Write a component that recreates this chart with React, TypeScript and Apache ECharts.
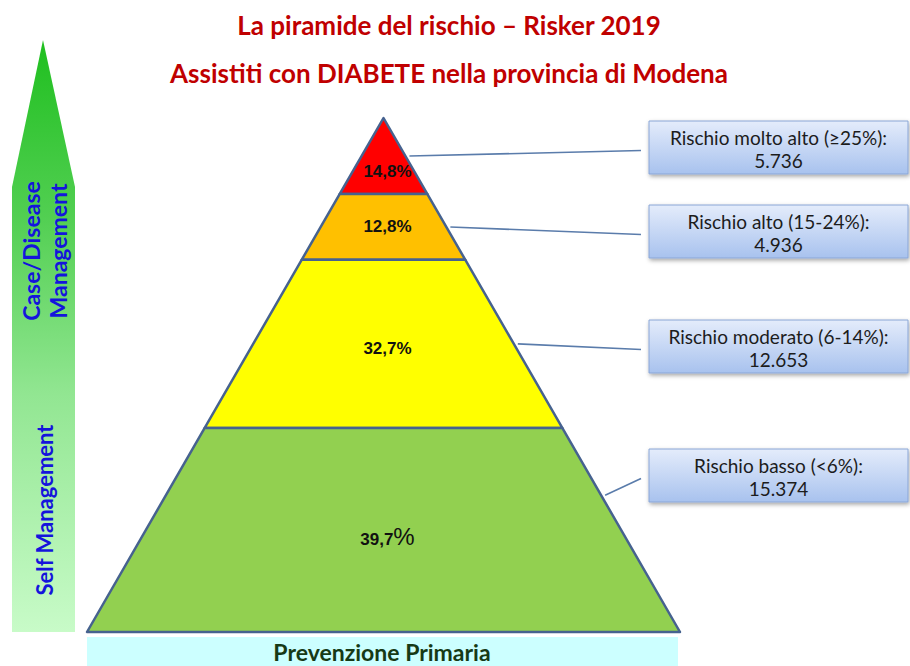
import React, { useEffect, useRef } from 'react';
import * as echarts from 'echarts';

const titleLines = ['La piramide del rischio – Risker 2019', 'Assistiti con DIABETE nella provincia di Modena'];
const riskLabels = ['Rischio molto alto (≥25%)', 'Rischio alto (15-24%)', 'Rischio moderato (6-14%)', 'Rischio basso (<6%)'];
const riskPercents = [14.8, 12.8, 32.7, 39.7];
const riskCounts = [5736, 4936, 12653, 15374];
const sideLabels = ['Case/Disease\nManagement', 'Self Management'];
const baseLabel = 'Prevenzione Primaria';

const layerColors = ['#ff0000', '#ffc000', '#ffff00', '#92d050'];
const boxTops = [121, 205, 320, 449];
const labelFrac = [0.3, 0.5, 0.47, 0.47];
const anchorFrac = [0.5, 0.5, 0.5, 0.33];

const fmtPct = (v: number) => v.toFixed(1).replace('.', ',');
const fmtCount = (v: number) => String(v).replace(/\B(?=(\d{3})+(?!\d))/g, '.');

// cumulative levels from the base (0) to the apex (100), layers listed top to bottom
const cumBottoms = riskPercents.map((_, i) => riskPercents.slice(i + 1).reduce((a, b) => a + b, 0));
const seriesData = riskPercents.map((p, i) => [cumBottoms[i], cumBottoms[i] + p, p, riskCounts[i]]);

const CAL = 'Lato, "Open Sans", sans-serif';

export default function App() {
  const ref = useRef<HTMLDivElement>(null);
  useEffect(() => {
    if (!ref.current) return;
    const chart = echarts.init(ref.current, null, { renderer: 'svg' });
    const hw = (v: number) => Math.max(0, 1 - v / 100);

    const renderItem = (params: any, api: any) => {
      const i = params.dataIndex;
      const b = api.value(0);
      const t = Math.min(100, api.value(1));
      const pct = api.value(2);
      const cnt = api.value(3);
      const p1 = api.coord([-hw(b), b]);
      const p2 = api.coord([hw(b), b]);
      const p3 = api.coord([hw(t), t]);
      const p4 = api.coord([-hw(t), t]);
      const lv = b + (t - b) * labelFrac[i];
      const lp = api.coord([0, lv]);
      const av = t - (t - b) * anchorFrac[i];
      const ap = api.coord([hw(av), av]);
      const boxX = 649;
      const boxW = 259;
      const boxH = 53;
      const boxY = boxTops[i];
      const isLast = i === riskPercents.length - 1;
      return {
        type: 'group',
        children: [
          {
            type: 'polygon',
            shape: { points: [p1, p2, p3, p4] },
            style: { fill: layerColors[i], stroke: '#46628f', lineWidth: 2.5, lineJoin: 'round' },
          },
          {
            type: 'text',
            style: {
              text: isLast ? `{a|${fmtPct(pct)}}{b|%}` : `${fmtPct(pct)}%`,
              x: lp[0] + 4,
              y: lp[1],
              align: 'center',
              verticalAlign: 'middle',
              textAlign: 'center',
              textVerticalAlign: 'middle',
              font: 'bold 17px "Liberation Sans", Arial, sans-serif',
              fill: '#111',
              rich: {
                a: { font: 'bold 17px "Liberation Sans", Arial, sans-serif', fill: '#111', verticalAlign: 'bottom' },
                b: { font: '24px "Liberation Sans", Arial, sans-serif', fill: '#111', verticalAlign: 'bottom' },
              },
            },
          },
          {
            type: 'line',
            shape: { x1: ap[0] + 4, y1: ap[1], x2: 641, y2: boxY + boxH / 2 + 3 },
            style: { stroke: '#5a7cab', lineWidth: 1.6 },
          },
          {
            type: 'rect',
            shape: { x: boxX, y: boxY, width: boxW, height: boxH },
            style: {
              fill: new echarts.graphic.LinearGradient(0, 0, 0, 1, [
                { offset: 0, color: '#e4ecfb' },
                { offset: 1, color: '#a8c2ee' },
              ]),
              stroke: '#8aa6d6',
              lineWidth: 1,
              shadowBlur: 4,
              shadowOffsetX: 1,
              shadowOffsetY: 2,
              shadowColor: 'rgba(0,0,0,0.35)',
            },
          },
          {
            type: 'text',
            style: {
              text: `${riskLabels[i]}:\n${fmtCount(cnt)}`,
              x: boxX + boxW / 2,
              y: boxY + boxH / 2 + 1,
              align: 'center',
              verticalAlign: 'middle',
              textAlign: 'center',
              textVerticalAlign: 'middle',
              font: `19px ${CAL}`,
              lineHeight: 23,
              fill: '#1c1c1c',
            },
          },
        ],
      };
    };

    chart.setOption({
      animation: false,
      grid: { left: 87, top: 118, width: 593, height: 514 },
      xAxis: { type: 'value', min: -1, max: 1, show: false },
      yAxis: { type: 'value', min: 0, max: 100, show: false },
      graphic: [
        {
          type: 'polygon',
          shape: { points: [[43, 40], [75, 187], [75, 632], [12, 632], [12, 187]] },
          style: {
            fill: {
              type: 'linear', x: 0, y: 0, x2: 0, y2: 1,
              colorStops: [
                { offset: 0, color: '#1fbf1f' },
                { offset: 0.3, color: '#52cf52' },
                { offset: 0.6, color: '#92e692' },
                { offset: 1, color: '#c8fbc8' },
              ],
            },
          },
          z: 1,
        },
        {
          type: 'text',
          x: 44,
          y: 251,
          rotation: Math.PI / 2,
          style: {
            text: sideLabels[0],
            align: 'center', verticalAlign: 'middle', textAlign: 'center', textVerticalAlign: 'middle',
            font: `bold 23px ${CAL}`, lineHeight: 27, fill: '#1414dc',
          },
          z: 2,
        },
        {
          type: 'text',
          x: 44,
          y: 510,
          rotation: Math.PI / 2,
          style: {
            text: sideLabels[1],
            align: 'center', verticalAlign: 'middle', textAlign: 'center', textVerticalAlign: 'middle',
            font: `bold 22px ${CAL}`, fill: '#1414dc',
          },
          z: 2,
        },
        {
          type: 'rect',
          shape: { x: 87, y: 637, width: 591, height: 29 },
          style: { fill: '#ccffff' },
          z: 1,
        },
        {
          type: 'text',
          x: 382,
          y: 652,
          style: {
            text: baseLabel,
            align: 'center', verticalAlign: 'middle', textAlign: 'center', textVerticalAlign: 'middle',
            font: `bold 23px ${CAL}`, fill: '#163a16',
          },
          z: 2,
        },
        {
          type: 'text',
          x: 449,
          y: 25,
          style: {
            text: titleLines[0],
            align: 'center', verticalAlign: 'middle', textAlign: 'center', textVerticalAlign: 'middle',
            font: `bold 26px ${CAL}`, fill: '#c00000',
          },
        },
        {
          type: 'text',
          x: 449,
          y: 73,
          style: {
            text: titleLines[1],
            align: 'center', verticalAlign: 'middle', textAlign: 'center', textVerticalAlign: 'middle',
            font: `bold 26px ${CAL}`, fill: '#c00000',
          },
        },
      ],
      series: [
        {
          type: 'custom',
          coordinateSystem: 'cartesian2d',
          renderItem,
          clip: false,
          data: seriesData,
          encode: { x: 2, y: 1 },
        },
      ],
    });
    return () => chart.dispose();
  }, []);
  return <div ref={ref} style={{ position: 'fixed', left: 0, top: 0, width: 910, height: 666, background: '#fff' }} />;
}
